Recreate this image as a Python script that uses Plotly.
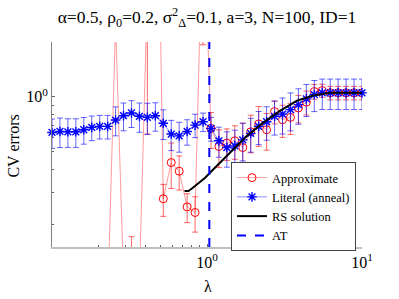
import math
import plotly.graph_objects as go

# lambda grid (40 log-spaced values from 0.1 to 10)
lam = [0.1, 0.1125, 0.1266, 0.1425, 0.1604, 0.1805, 0.2031, 0.2285, 0.2572, 0.2894,
       0.3257, 0.3665, 0.4124, 0.4642, 0.5223, 0.5878, 0.6615, 0.7444, 0.8377, 0.9427,
       1.0608, 1.1938, 1.3434, 1.5118, 1.7013, 1.9145, 2.1544, 2.4245, 2.7283, 3.0703,
       3.4551, 3.8882, 4.3755, 4.9239, 5.5410, 6.2355, 7.0170, 7.8965, 8.8862, 10.0]

# Literal (anneal)
lit_val = [0.638, 0.646, 0.643, 0.643, 0.660, 0.680, 0.689, 0.689, 0.746, 0.788,
           0.816, 0.782, 0.772, 0.788, 0.716, 0.625, 0.611, 0.646, 0.700, 0.730,
           0.671, 0.574, 0.527, 0.538, 0.581, 0.630, 0.689, 0.730, 0.782, 0.805,
           0.851, 0.907, 0.975, 1.030, 1.052, 1.052, 1.052, 1.052, 1.052, 1.052]
lit_err = [0.117, 0.119, 0.115, 0.115, 0.110, 0.105, 0.102, 0.102, 0.135, 0.137,
           0.137, 0.143, 0.150, 0.140, 0.133, 0.118, 0.114, 0.103, 0.103, 0.085,
           0.100, 0.108, 0.116, 0.118, 0.136, 0.133, 0.142, 0.152, 0.165, 0.180,
           0.200, 0.200, 0.195, 0.200, 0.200, 0.200, 0.200, 0.200, 0.200, 0.200]

# Approximate
app_val = [None, None, None, None, None, None, None, 0.074, 2.53, 0.100,
           0.100, 0.101, 3.6, 140.0, 0.276, 0.436, 0.391, 0.249, 0.232, 11.4,
           0.671, 0.534, 0.557, 0.574, 0.527, 0.643, 0.710, 0.660, 0.830, 0.749,
           0.772, 0.869, 0.935, 1.070, 1.083, 1.052, 1.052, 1.052, 1.052, 1.052]
app_err = [None, None, None, None, None, None, None, 0.01, 0.3, 0.02,
           0.071, 0.02, 2.975, 100.0, 0.055, 0.122, 0.083, 0.045, 0.051, 9.47,
           0.150, 0.125, 0.110, 0.120, 0.190, 0.150, 0.175, 0.150, 0.120, 0.150,
           0.150, 0.150, 0.140, 0.100, 0.090, 0.090, 0.090, 0.090, 0.090, 0.090]

# RS solution
rs_lam = [0.716, 0.759, 0.799, 0.881, 0.973, 1.06, 1.413, 1.81, 2.32, 2.97,
          3.81, 4.86, 6.25, 10.0]
rs_val = [0.304, 0.304, 0.314, 0.335, 0.360, 0.388, 0.497, 0.611, 0.725, 0.840,
          0.954, 1.017, 1.052, 1.052]

# AT line
at_lam = 1.035
y_lim = [0.15, 2.0]
x_lim = [0.1, 10.0]

FONT = "Liberation Serif, Times New Roman, serif"

fig = go.Figure()

fig.add_trace(go.Scatter(
    x=lam, y=app_val, name="Approximate", mode="lines+markers",
    line=dict(color="rgba(255,0,0,0.4)", width=1),
    marker=dict(symbol="circle-open", size=8, color="red", line=dict(width=1, color="red")),
    error_y=dict(type="data", array=app_err, symmetric=True, color="rgba(255,0,0,0.6)",
                 thickness=1, width=3),
    cliponaxis=True,
))

fig.add_trace(go.Scatter(
    x=lam, y=lit_val, name="Literal (anneal)", mode="lines+markers",
    line=dict(color="rgba(0,0,255,0.45)", width=1),
    marker=dict(symbol="asterisk-open", size=8, color="blue", line=dict(width=1.4, color="#0000dd")),
    error_y=dict(type="data", array=lit_err, symmetric=True, color="rgba(0,0,255,0.6)",
                 thickness=1, width=3),
    cliponaxis=False,
))

fig.add_trace(go.Scatter(
    x=rs_lam, y=rs_val, name="RS solution", mode="lines",
    line=dict(color="black", width=2),
))

fig.add_trace(go.Scatter(
    x=[at_lam, at_lam], y=y_lim, name="AT", mode="lines",
    line=dict(color="blue", width=2, dash="dash"),
))

xminor = [m * 10 ** e for e in (-1, 0) for m in range(2, 10)]
yminor = [0.2, 0.3, 0.4, 0.5, 0.6, 0.7, 0.8, 0.9, 2.0]

fig.update_layout(
    width=399, height=299, autosize=False,
    margin=dict(l=52, r=37, t=42, b=52, autoexpand=False),
    paper_bgcolor="white", plot_bgcolor="white",
    font=dict(family=FONT, size=14, color="black"),
    showlegend=True,
    title=dict(
        text="α=0.5, ρ<sub>0</sub>=0.2, σ<sup>2</sup><sub>Δ</sub>=0.1, a=3, N=100, ID=1",
        x=0.5, xref="paper", y=1 - 17 / 299, yanchor="middle",
        font=dict(family=FONT, size=17.5, color="black"),
    ),
    legend=dict(
        x=(231 - 52) / 310, y=(247 - 162) / 205, xanchor="left", yanchor="top",
        bgcolor="white", bordercolor="#444", borderwidth=1,
        font=dict(family=FONT, size=12.5, color="black"),
        tracegroupgap=0, itemwidth=30,
    ),
    xaxis=dict(
        type="log", range=[math.log10(x_lim[0]), math.log10(x_lim[1])],
        showgrid=False, zeroline=False, automargin=False,
        showline=True, linecolor="#c0c0c0", linewidth=2,
        ticks="inside", ticklen=3, tickcolor="#666",
        tickvals=[1, 10], ticktext=["10<sup>0</sup>", "10<sup>1</sup>"],
        minor=dict(tickvals=xminor, ticks="inside", ticklen=2, tickcolor="#666", showgrid=False),
        tickfont=dict(family=FONT, size=16),
    ),
    yaxis=dict(
        type="log", range=[math.log10(y_lim[0]), math.log10(y_lim[1])],
        showgrid=False, zeroline=False, automargin=False,
        showline=True, linecolor="#808080", linewidth=1,
        ticks="inside", ticklen=3, tickcolor="#666",
        tickvals=[1], ticktext=["10<sup>0</sup>"],
        minor=dict(tickvals=yminor, ticks="inside", ticklen=2, tickcolor="#666", showgrid=False),
        tickfont=dict(family=FONT, size=16),
    ),
    annotations=[
        dict(text="CV errors", xref="paper", yref="paper", x=(14 - 52) / 310, y=0.49,
             textangle=-90, showarrow=False, xanchor="center", yanchor="middle",
             font=dict(family=FONT, size=16)),
        dict(text="λ", xref="paper", yref="paper", x=(208 - 52) / 310, y=-(286 - 247) / 205,
             showarrow=False, xanchor="center", yanchor="middle",
             font=dict(family=FONT, size=16)),
    ],
)

fig.write_html(
    "out.html",
    config={"displayModeBar": False},
    post_script="document.body.style.margin='0';document.body.style.padding='0';",
)
